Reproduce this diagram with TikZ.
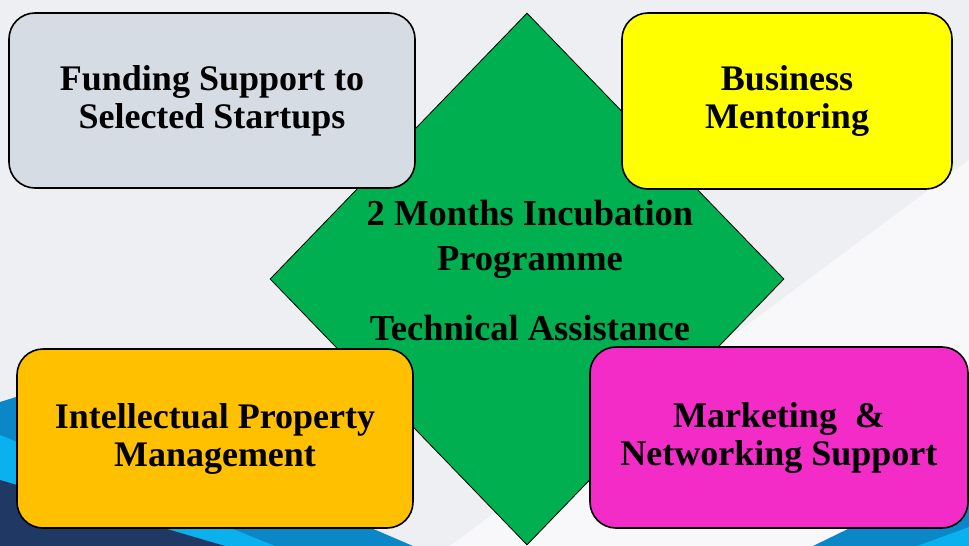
\documentclass[tikz,border=0pt]{standalone}
\usepackage{fontspec}
\setmainfont{Liberation Serif}
\usetikzlibrary{shapes.geometric}
\definecolor{bggray}{HTML}{EEEFF3}
\definecolor{navy}{HTML}{1F3864}
\definecolor{midblue}{HTML}{0B86C6}
\definecolor{skyblue}{HTML}{0BB0EE}
\definecolor{progreen}{HTML}{00AF50}
\definecolor{fundgray}{HTML}{D6DCE4}
\definecolor{mentyellow}{HTML}{FFFF00}
\definecolor{iporange}{HTML}{FFC000}
\definecolor{mktpink}{HTML}{F32CC8}
\begin{document}
\begin{tikzpicture}[x=1pt, y=-1pt,
	box/.style = {draw, line width=1.6pt, rounded corners=26pt, inner sep=0pt, align=center, font=\bfseries\fontsize{36}{38}\selectfont},
	big/.style = {align=center, inner sep=0pt, font=\bfseries\fontsize{36.5}{45}\selectfont}]
	\useasboundingbox (0,0) rectangle (969,546);
	%Background and corner bands
	\fill[bggray] (0,0) rectangle (969,546);
	\fill[white, opacity=0.6] (969,160) -- (969,546) -- (450,546) -- cycle;
	\fill[midblue] (0,402) -- (45,388) -- (413,546) -- (0,546) -- cycle;
	\fill[skyblue] (0,435) -- (275,546) -- (0,546) -- cycle;
	\fill[navy] (0,480) -- (225,546) -- (0,546) -- cycle;
	\fill[midblue] (813,546) -- (969,470) -- (969,546) -- cycle;
	\fill[skyblue] (917,546) -- (969,527) -- (969,546) -- cycle;
	
	%Central diamond
	\node[diamond, draw, fill=progreen, line width=0.8pt, inner sep=0pt, minimum width=514pt, minimum height=532pt] (prog) at (527,279) {};
	
	%Four corner boxes
	\node[box, fill=fundgray, minimum width=406pt, minimum height=175pt] (fund) at (212,100.5) {Funding Support to\\Selected Startups};
	\node[box, fill=mentyellow, minimum width=330pt, minimum height=176pt] (ment) at (787,101) {Business\\Mentoring};
	\node[box, fill=iporange, minimum width=396pt, minimum height=179pt] (ip) at (215,438.5) {Intellectual Property\\Management};
	\node[box, fill=mktpink, minimum width=378pt, minimum height=181pt] (mkt) at (779,437.5) {Marketing \ \&\\Networking Support};
	
	%Text in the diamond
	\node[big] (progtxt) at (530,239.5) {2 Months Incubation\\Programme};
	\node[big] (techtxt) at (530,328) {Technical Assistance};
\end{tikzpicture}
\end{document}
